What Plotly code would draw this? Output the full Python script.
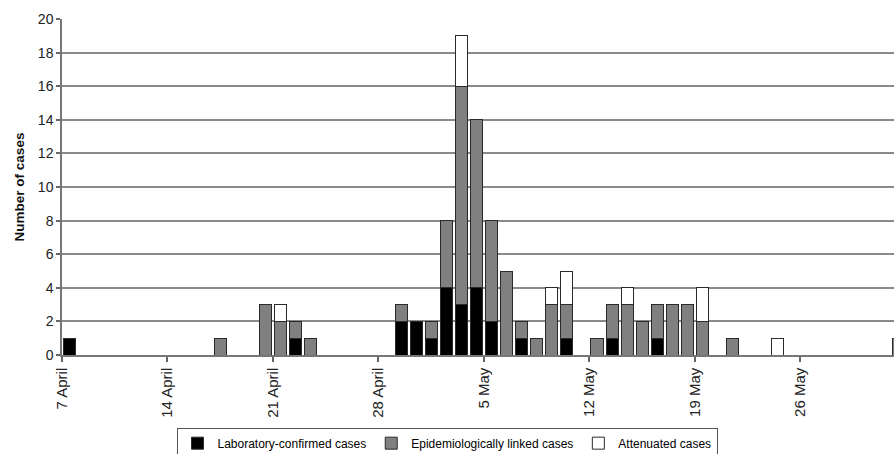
import plotly.graph_objects as go

# Onset dates (year arbitrary, only day/month shown)
dates = [
    "2007-04-07", "2007-04-17", "2007-04-20", "2007-04-21", "2007-04-22", "2007-04-23",
    "2007-04-29", "2007-04-30", "2007-05-01", "2007-05-02", "2007-05-03", "2007-05-04",
    "2007-05-05", "2007-05-06", "2007-05-07", "2007-05-08", "2007-05-09", "2007-05-10",
    "2007-05-12", "2007-05-13", "2007-05-14", "2007-05-15", "2007-05-16", "2007-05-17",
    "2007-05-18", "2007-05-19", "2007-05-21", "2007-05-24", "2007-06-01",
]
lab_confirmed = [1, 0, 0, 0, 1, 0,
                 2, 2, 1, 4, 3, 4,
                 2, 0, 1, 0, 0, 1,
                 0, 1, 0, 0, 1, 0,
                 0, 0, 0, 0, 0]
epi_linked = [0, 1, 3, 2, 1, 1,
              1, 0, 1, 4, 13, 10,
              6, 5, 1, 1, 3, 2,
              1, 2, 3, 2, 2, 3,
              3, 2, 1, 0, 1]
attenuated = [0, 0, 0, 1, 0, 0,
              0, 0, 0, 0, 3, 0,
              0, 0, 0, 0, 1, 2,
              0, 0, 1, 0, 0, 0,
              0, 2, 0, 1, 0]

tick_dates = ["2007-04-07", "2007-04-14", "2007-04-21", "2007-04-28",
              "2007-05-05", "2007-05-12", "2007-05-19", "2007-05-26"]
tick_labels = ["7 April", "14 April", "21 April", "28 April",
               "5 May", "12 May", "19 May", "26 May"]

series = [
    ("Laboratory-confirmed cases", lab_confirmed, "#000000"),
    ("Epidemiologically linked cases", epi_linked, "#808080"),
    ("Attenuated cases", attenuated, "#ffffff"),
]

FONT = "Liberation Sans, Arial, sans-serif"

fig = go.Figure()
for name, vals, color in series:
    fig.add_trace(go.Bar(
        name=name,
        x=dates,
        y=[v if v else None for v in vals],
        xperiod=86400000,
        xperiodalignment="middle",
        marker=dict(color=color, line=dict(color="#2a2a2a", width=1)),
    ))

fig.update_layout(
    width=894, height=454,
    margin=dict(l=62, r=0, t=19, b=99, autoexpand=False),
    barmode="stack",
    bargap=0.2,
    plot_bgcolor="white",
    paper_bgcolor="white",
    font=dict(family=FONT, size=13, color="#222222"),
    showlegend=True,
    legend=dict(
        orientation="h",
        xref="container", yref="container",
        x=0.5, xanchor="center",
        y=0.058, yanchor="top",
        traceorder="normal",
        bordercolor="#555555", borderwidth=1,
        font=dict(family=FONT, size=12, color="#000000"),
        itemwidth=30,
    ),
)

fig.update_xaxes(
    type="date",
    range=["2007-04-07", "2007-06-01 05:00"],
    tickmode="array",
    tickvals=tick_dates,
    ticktext=tick_labels,
    tickangle=-90,
    ticks="outside", ticklen=5, tickcolor="#666666", tickwidth=1.5,
    showline=True, linecolor="#777777", linewidth=1.5,
    showgrid=False,
    tickfont=dict(family=FONT, size=15, color="#222222"),
)
fig.update_yaxes(
    range=[0, 20],
    dtick=2,
    ticks="outside", ticklen=4, tickcolor="#666666", tickwidth=1.5,
    showline=True, linecolor="#777777", linewidth=1.5,
    showgrid=True, gridcolor="#8a8a8a", gridwidth=1.5,
    zeroline=False,
    tickfont=dict(family=FONT, size=14, color="#222222"),
    title=dict(text="<b>Number of cases</b>", standoff=10,
               font=dict(family=FONT, size=13.5, color="#111111")),
)

fig.write_html("out.html", config={"displayModeBar": False},
               post_script="document.body.style.margin='0';")
